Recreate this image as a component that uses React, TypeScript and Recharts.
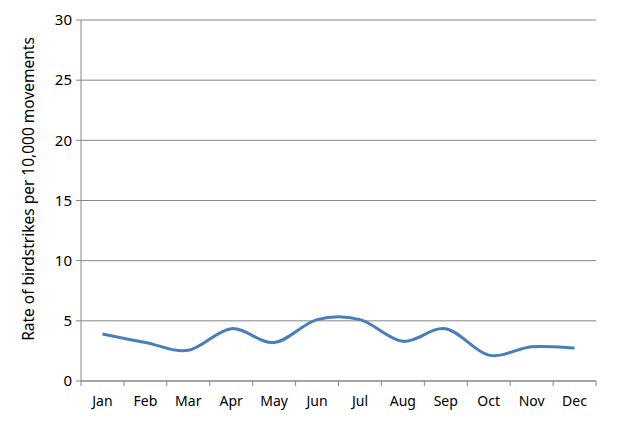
import React from 'react';
import { LineChart, Line, XAxis, YAxis, CartesianGrid, Label } from 'recharts';

const months = ['Jan', 'Feb', 'Mar', 'Apr', 'May', 'Jun', 'Jul', 'Aug', 'Sep', 'Oct', 'Nov', 'Dec'];
const rates = [3.9, 3.2, 2.55, 4.35, 3.2, 5.1, 5.1, 3.3, 4.35, 2.15, 2.85, 2.75];
const yTicks = [0, 5, 10, 15, 20, 25, 30];
const yTitle = 'Rate of birdstrikes per 10,000 movements';

const data = months.map((m, i) => ({ month: m, rate: rates[i] }));

const W = 619;
const H = 431;
const M = { top: 20, right: 23, bottom: 0, left: 0 };
const X_AXIS_H = 50;
const Y_AXIS_W = 81;
const STEP = (W - M.right - Y_AXIS_W) / months.length;
const FONT = '"Noto Sans", sans-serif';
const GRAY = '#868686';

// Excel-like smooth curve (Catmull-Rom as cubic Bezier)
function excelCurve(context: any) {
  let pts: [number, number][] = [];
  return {
    areaStart() {},
    areaEnd() {},
    lineStart() {
      pts = [];
    },
    point(x: number, y: number) {
      pts.push([+x, +y]);
    },
    lineEnd() {
      const n = pts.length;
      if (!n) return;
      context.moveTo(pts[0][0], pts[0][1]);
      for (let i = 0; i < n - 1; i++) {
        const p0 = pts[i - 1] || pts[i];
        const p1 = pts[i];
        const p2 = pts[i + 1];
        const p3 = pts[i + 2] || pts[i + 1];
        const c1x = p1[0] + (p2[0] - p0[0]) / 6;
        const c1y = p1[1] + (p2[1] - p0[1]) / 6;
        const c2x = p2[0] - (p3[0] - p1[0]) / 6;
        const c2y = p2[1] - (p3[1] - p1[1]) / 6;
        context.bezierCurveTo(c1x, c1y, c2x, c2y, p2[0], p2[1]);
      }
    },
  };
}

const XTick = (props: any) => {
  const { x, y, payload, index } = props;
  const left = x - STEP / 2;
  return (
    <g>
      <line x1={left} y1={y} x2={left} y2={y + 5} stroke={GRAY} strokeWidth={1} />
      {index === months.length - 1 && (
        <line x1={x + STEP / 2} y1={y} x2={x + STEP / 2} y2={y + 5} stroke={GRAY} strokeWidth={1} />
      )}
      <text x={x} y={y + 25} textAnchor="middle" fill="#000" fontSize={14} fontFamily={FONT}>
        {payload.value}
      </text>
    </g>
  );
};

const YTitle = () => {
  const cx = 28;
  const cy = 189;
  return (
    <text
      x={cx}
      y={cy}
      transform={`rotate(-90, ${cx}, ${cy})`}
      textAnchor="middle"
      dominantBaseline="central"
      fill="#000"
      fontSize={15.5}
      fontFamily={FONT}
    >
      {yTitle}
    </text>
  );
};

export default function App() {
  return (
    <div style={{ position: 'absolute', left: 0, top: 0, width: W, height: H, background: '#fff' }}>
      <LineChart width={W} height={H} data={data} margin={M}>
        <CartesianGrid vertical={false} stroke={GRAY} strokeWidth={1} />
        <XAxis
          dataKey="month"
          scale="band"
          height={X_AXIS_H}
          stroke={GRAY}
          tickLine={false}
          tickSize={0}
          tickMargin={0}
          interval={0}
          tick={<XTick />}
        />
        <YAxis
          width={Y_AXIS_W}
          domain={[0, 30]}
          ticks={yTicks}
          stroke={GRAY}
          tickSize={5}
          tickMargin={4}
          tick={{ fill: '#000', fontSize: 15, fontFamily: FONT }}
        >
          <Label content={<YTitle />} />
        </YAxis>
        <Line
          type={excelCurve as any}
          dataKey="rate"
          stroke="#4A7EBB"
          strokeWidth={3}
          dot={false}
          isAnimationActive={false}
        />
      </LineChart>
    </div>
  );
}
